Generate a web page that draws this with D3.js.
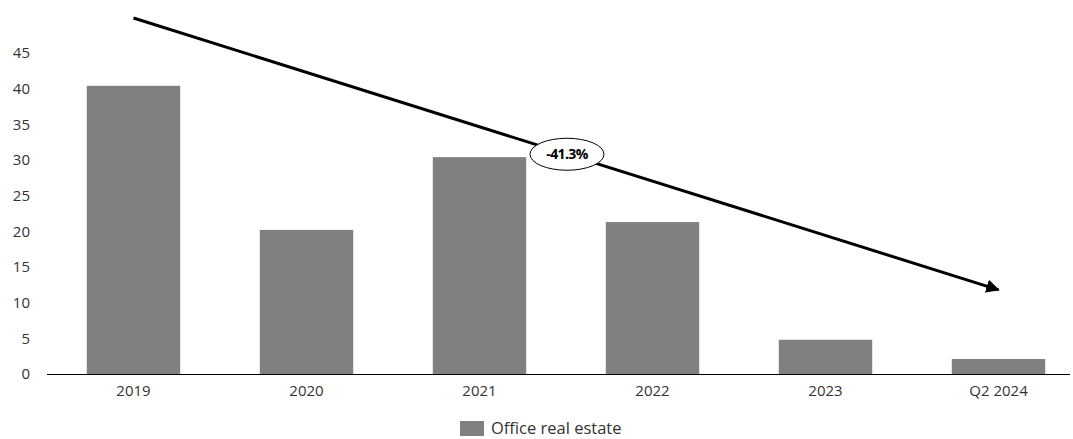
<!DOCTYPE html>
<html><head><meta charset="utf-8">
<script src="https://cdn.jsdelivr.net/npm/d3@7"></script>
<style>body{margin:0;background:#fff}svg text{font-family:"Open Sans","Noto Sans",sans-serif}</style>
</head><body><svg id="c" width="1073" height="439"></svg>
<script>
const categories = ["2019","2020","2021","2022","2023","Q2 2024"];
const values = [40.4, 20.2, 30.4, 21.3, 4.8, 2.1];
const yTicks = [0,5,10,15,20,25,30,35,40,45];
const seriesName = "Office real estate";
const trendLabel = "-41.3%";
const trendStart = {cat:"2019", v:49.9};
const trendEnd = {cat:"Q2 2024", v:11.8};

const svg = d3.select("#c");
const x = d3.scaleBand().domain(categories).range([47,1085]).paddingInner(0.46).paddingOuter(0.23);
const y = d3.scaleLinear().domain([0,45]).range([374,53]);
const ff = '"Open Sans","Noto Sans",sans-serif';

svg.append("g").attr("transform","translate(0,374)")
  .call(d3.axisBottom(x).tickSize(0).tickPadding(11))
  .call(g=>g.select(".domain").remove())
  .call(g=>g.selectAll("text").attr("font-size",15).attr("fill","#333").style("font-family",ff));

svg.append("g").attr("transform","translate(31,0)")
  .call(d3.axisLeft(y).tickValues(yTicks).tickSize(0).tickPadding(1))
  .call(g=>g.select(".domain").remove())
  .call(g=>g.selectAll("text").attr("font-size",15).attr("fill","#333").style("font-family",ff));

svg.selectAll("rect.bar").data(values).join("rect").attr("class","bar")
  .attr("x",(d,i)=>x(categories[i])).attr("width",x.bandwidth())
  .attr("y",d=>y(d)).attr("height",d=>y(0)-y(d)).attr("fill","#808080");

svg.append("line").attr("x1",47).attr("x2",1070).attr("y1",374.5).attr("y2",374.5).attr("stroke","#000").attr("stroke-width",1);

// trend arrow
const defs = svg.append("defs");
defs.append("marker").attr("id","ah").attr("viewBox","0 0 10 10").attr("refX",9).attr("refY",5)
  .attr("markerWidth",4.5).attr("markerHeight",4.5).attr("orient","auto").attr("markerUnits","strokeWidth")
  .append("path").attr("d","M0,0L10,5L0,10Z").attr("fill","#000");
const x1 = x(trendStart.cat)+x.bandwidth()/2, y1 = y(trendStart.v);
const x2 = x(trendEnd.cat)+x.bandwidth()/2, y2 = y(trendEnd.v);
svg.append("line").attr("x1",x1).attr("y1",y1).attr("x2",x2).attr("y2",y2)
  .attr("stroke","#000").attr("stroke-width",3).attr("marker-end","url(#ah)");

const cx = 567, t=(cx-x1)/(x2-x1), cy = y1+(y2-y1)*t;
svg.append("ellipse").attr("cx",cx).attr("cy",cy).attr("rx",37).attr("ry",16).attr("fill","#fff").attr("stroke","#000").attr("stroke-width",1);
svg.append("text").attr("x",cx).attr("y",cy+5).attr("text-anchor","middle").attr("font-size",14).attr("font-weight","bold")
  .attr("letter-spacing",-0.6).attr("fill","#000").text(trendLabel);

// legend
svg.append("rect").attr("x",460).attr("y",421).attr("width",24).attr("height",15).attr("fill","#808080");
svg.append("text").attr("x",491).attr("y",434).attr("font-size",16.5).attr("fill","#333").text(seriesName);
</script></body></html>
